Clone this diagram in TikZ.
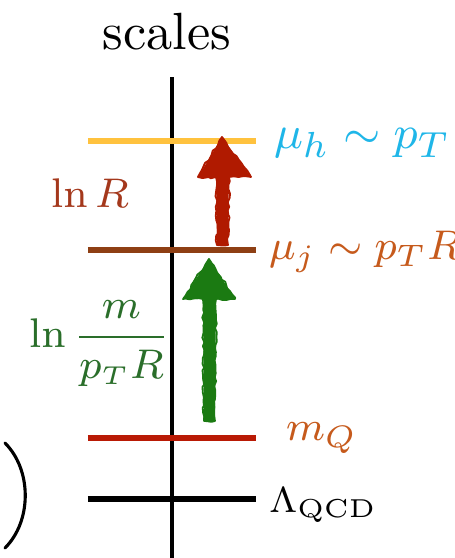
\documentclass[tikz,border=0pt]{standalone}
\usetikzlibrary{decorations.pathmorphing}
\definecolor{cyellow}{HTML}{FFC23E}
\definecolor{cbrown}{HTML}{8E3F14}
\definecolor{cred}{HTML}{B91A05}
\definecolor{ccyan}{HTML}{1FB6E8}
\definecolor{corange}{HTML}{C65A1C}
\definecolor{clnR}{HTML}{A4381C}
\definecolor{cgtext}{HTML}{2A6E2A}
\definecolor{cgarrow}{HTML}{1B7A12}
\definecolor{crarrow}{HTML}{B01A00}
\newcommand\fsz[1]{\fontsize{#1}{#1}\selectfont}
\tikzset{
  scaleline/.style={line width=1.0pt},
  lbl/.style={anchor=west, inner sep=0pt},
  fuzzy/.style={decorate, decoration={random steps, segment length=0.8pt, amplitude=0.25pt}, line width=0.35pt, line join=round}
}
\begin{document}
\begin{tikzpicture}[x=0.193pt, y=-0.193pt]
\useasboundingbox (0,0) rectangle (455,558);
% title
\node[font=\fsz{10.1}, inner sep=0pt] (title) at (167,32) {scales};
% axis
\coordinate (axtop) at (172,77);
\coordinate (axbot) at (172,558);
\draw[line width=0.85pt] (axtop) -- (axbot);
% scale lines
\coordinate (hL) at (88,141); \coordinate (hR) at (256,141);
\coordinate (jL) at (88,250); \coordinate (jR) at (256,250);
\coordinate (qL) at (88,438); \coordinate (qR) at (256,438);
\coordinate (lL) at (88,499); \coordinate (lR) at (256,499);
\draw[scaleline, cyellow] (hL) -- (hR);
\draw[scaleline, cbrown] (jL) -- (jR);
\draw[scaleline, cred] (qL) -- (qR);
\draw[scaleline, black] (lL) -- (lR);
% labels
\node[lbl, text=ccyan, font=\fsz{9.4}] (muh) at (273,143) {$\mu_h \sim p_T$};
\node[lbl, text=corange, font=\fsz{8.1}] (muj) at (268,252) {$\mu_j \sim p_T R$};
\node[lbl, text=corange, font=\fsz{8.4}] (mq) at (285,438) {$m_Q$};
\node[lbl, text=black, font=\fsz{7.4}] (lqcd) at (268,505) {$\Lambda_{\mathrm{QCD}}$};
\node[lbl, text=clnR, font=\fsz{8.3}] (lnR) at (50,193) {$\ln R$};
\node[lbl, text=cgtext, font=\fsz{7.7}] (lnm) at (28,344) {$\displaystyle\ln \frac{m}{p_T R}$};
% red arrow
\coordinate (rt) at (222,137);
\fill[crarrow] (rt) -- (251,177) -- (229,177) -- (228,245) -- (217,245) -- (216,177) -- (198,177) -- cycle;
\draw[crarrow, fuzzy] (rt) -- (251,177) -- (229,177) -- (228,245) -- (217,245) -- (216,177) -- (198,177) -- cycle;
% green arrow
\coordinate (gt) at (209,259);
\fill[cgarrow] (gt) -- (235,299) -- (216,299) -- (215,421) -- (204,421) -- (203,299) -- (183,299) -- cycle;
\draw[cgarrow, fuzzy] (gt) -- (235,299) -- (216,299) -- (215,421) -- (204,421) -- (203,299) -- (183,299) -- cycle;
% parenthesis
\coordinate (pa) at (5,443);
\coordinate (pb) at (5,548);
\draw[line width=0.6pt, line cap=round] (pa) .. controls (32,470) and (32,521) .. (pb);
\end{tikzpicture}
\end{document}
